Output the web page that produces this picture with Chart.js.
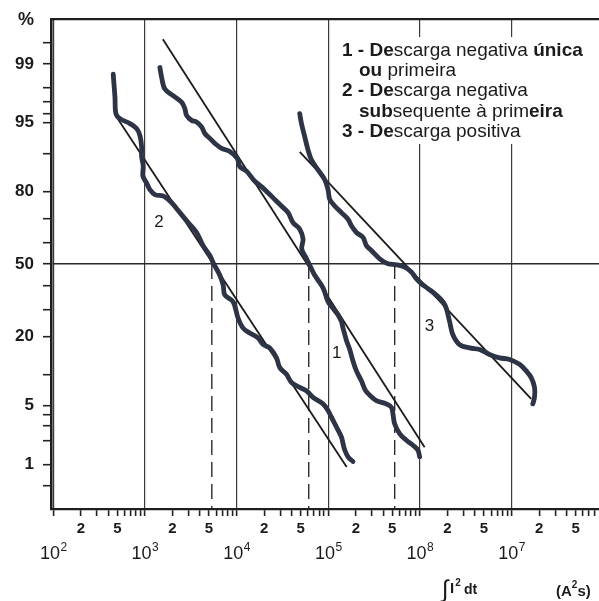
<!DOCTYPE html>
<html>
<head>
<meta charset="utf-8">
<script src="https://cdn.jsdelivr.net/npm/chart.js@4.4.1/dist/chart.umd.min.js"></script>
<style>
  html, body { margin: 0; padding: 0; background: #fff; }
  #c { display: block; }
</style>
</head>
<body>
<canvas id="c" width="599" height="601"></canvas>
<script>
// Cumulative probability (%) of the specific energy ∫i²dt (A²s), log-normal paper.

// 1 - Descarga negativa única ou primeira
const curve1X = [1457, 1521, 1652, 2034, 2512, 2729, 2848, 3228, 3660, 4150, 4508, 5110, 5794, 6855, 8445,
  10140, 10850, 12840, 15810, 18840, 23040, 26120, 30900, 36480, 41300, 48920, 53160, 51400, 56830, 62880,
  71290, 87800, 99500, 112800, 127900, 139300, 144900, 151400, 159100, 171400, 186200, 203000, 230100,
  256200, 295800, 335400, 430500, 488700, 508200, 530300, 601200, 711200, 839500, 952800, 993300];
const curve1Pct = [98.88, 98.50, 97.90, 97.48, 97.01, 96.45, 95.80, 95.25, 95.07, 94.45, 93.54, 92.79, 91.96, 91.07, 90.44,
  89.06, 87.16, 85.99, 83.20, 81.51, 79.04, 77.37, 75.01, 72.50, 68.54, 65.76, 61.45, 56.98, 53.21, 49.40,
  44.83, 39.13, 33.11, 30.36, 27.76, 25.24, 22.85, 20.72, 18.49, 16.14, 13.01, 10.73, 8.75,
  7.06, 6.18, 5.64, 5.22, 4.82, 4.10, 3.19, 2.45, 2.04, 1.77, 1.53, 1.26];

// 2 - Descarga negativa subsequente à primeira
const curve2X = [451, 471, 483, 534, 686, 812, 882, 920, 920, 958, 951, 1043, 1134, 1285, 1583, 1795, 2034,
  2407, 2965, 3660, 4320, 5110, 5650, 6570, 7140, 7450, 9170, 10400, 11790, 13950, 17180, 19480, 23040,
  27260, 29610, 35040, 39720, 48920, 57870, 68240, 87700, 99500, 108400, 122900, 139300, 144900, 151400,
  164400, 186200];
const curve2Pct = [98.63, 97.40, 95.97, 95.45, 94.87, 94.23, 93.24, 91.43, 89.49, 87.25, 84.68, 82.70, 80.66, 79.04, 78.52, 77.37, 75.58,
  72.50, 68.54, 64.35, 58.51, 53.98, 50.00, 44.83, 40.32, 35.94, 33.11, 26.47, 22.85, 21.16, 19.52, 17.51, 16.50,
  13.81, 11.45, 10.04, 8.44, 7.59, 7.06, 6.08, 5.22, 4.45, 3.77, 2.92, 2.23, 1.86, 1.54,
  1.26, 1.09];

// 3 - Descarga positiva
const curve3X = [48900, 51050, 55460, 60260, 65610, 77450, 91620, 99500, 103900, 117800, 139300, 164400,
  179100, 203000, 239600, 261000, 295800, 364400, 448700, 554000, 682300, 807200, 914100, 1036000,
  1225000, 1511000, 1782000, 1941000, 2109000, 2291000, 2710000, 3483000, 4477000, 5754000, 7396000,
  9506000, 12220000, 14450000, 16390000, 17810000, 17810000, 17060000];
const curve3Pct = [95.97, 94.87, 93.04, 90.74, 88.69, 86.33, 83.65, 80.66, 77.37, 75.01, 72.50, 69.88,
  67.18, 64.35, 62.18, 58.51, 56.25, 52.43, 50.14, 49.68, 48.62, 46.34, 43.29, 41.05,
  38.82, 35.94, 33.11, 30.36, 25.24, 20.61, 17.51, 16.50, 16.06, 14.70, 13.81,
  13.41, 12.22, 10.73, 9.37, 7.59, 6.08, 5.22];

// fitted log-normal lines (end points) and medians
const fit1X = [1570, 1127000];   const fit1Pct = [99.55, 1.67];
const fit2X = [471, 159000];     const fit2Pct = [95.9, 0.92];
const fit3X = [48900, 16390000]; const fit3Pct = [90.4, 5.86];
const medianX = [5370, 61300, 531000];

// axis ticks
const yTickPct = [99.5, 99, 98, 97, 96, 95, 90, 80, 70, 60, 50, 40, 30, 20, 10, 5, 4, 3, 2, 1, 0.5];
const yLabelPct = [99, 95, 80, 50, 20, 5, 1];
const decadeValues = [1e2, 1e3, 1e4, 1e5, 1e6, 1e7];
const decadeExp = ['2', '3', '4', '5', '8', '7'];
const minorMantissa = [2, 3, 4, 5, 6, 7, 8, 9];
const labelledMantissa = [2, 5];

const FONT = "'Liberation Sans', Arial, Helvetica, sans-serif";
const INK = '#1b1b1b';
const CURVE = '#2d3446';

// inverse of the standard normal CDF (Acklam), percent in -> z out
function probit(pct) {
  const p = pct / 100;
  const a = [-3.969683028665376e+01, 2.209460984245205e+02, -2.759285104469687e+02, 1.383577518672690e+02, -3.066479806614716e+01, 2.506628277459239e+00];
  const b = [-5.447609879822406e+01, 1.615858368580409e+02, -1.556989798598866e+02, 6.680131188771972e+01, -1.328068155288572e+01];
  const c = [-7.784894002430293e-03, -3.223964580411365e-01, -2.400758277161838e+00, -2.549732539343734e+00, 4.374664141464968e+00, 2.938163982698783e+00];
  const d = [7.784695709041462e-03, 3.224671290700398e-01, 2.445134137142996e+00, 3.754408661907416e+00];
  const pl = 0.02425, ph = 1 - pl;
  let q, r;
  if (p < pl) {
    q = Math.sqrt(-2 * Math.log(p));
    return (((((c[0]*q+c[1])*q+c[2])*q+c[3])*q+c[4])*q+c[5]) / ((((d[0]*q+d[1])*q+d[2])*q+d[3])*q+1);
  }
  if (p <= ph) {
    q = p - 0.5; r = q * q;
    return (((((a[0]*r+a[1])*r+a[2])*r+a[3])*r+a[4])*r+a[5])*q / (((((b[0]*r+b[1])*r+b[2])*r+b[3])*r+b[4])*r+1);
  }
  q = Math.sqrt(-2 * Math.log(1 - p));
  return -(((((c[0]*q+c[1])*q+c[2])*q+c[3])*q+c[4])*q+c[5]) / ((((d[0]*q+d[1])*q+d[2])*q+d[3])*q+1);
}

const toPoints = (xs, ps) => xs.map((x, i) => ({ x, y: probit(ps[i]) }));

// x tick values: every integer multiple inside each decade
const xTickValues = [];
decadeValues.forEach(dv => {
  xTickValues.push(dv);
  minorMantissa.forEach(m => { if (dv * m <= 8.5e7) xTickValues.push(dv * m); });
});
const mantissaOf = v => Math.round(v / Math.pow(10, Math.floor(Math.log10(v) + 1e-9)));

const Z_LIM = 2.845;

const curveStyle = { borderColor: CURVE, borderWidth: 4.8, tension: 0.35, pointRadius: 0,
  borderCapStyle: 'round', borderJoinStyle: 'round', fill: false };
const fitStyle = { borderColor: INK, borderWidth: 1.8, tension: 0, pointRadius: 0, fill: false };
const dashStyle = { borderColor: '#2a2a2a', borderWidth: 1.4, borderDash: [15, 7], pointRadius: 0, fill: false };

const datasets = [
  { label: '1', data: toPoints(curve1X, curve1Pct), ...curveStyle },
  { label: '2', data: toPoints(curve2X, curve2Pct), ...curveStyle },
  { label: '3', data: toPoints(curve3X, curve3Pct), ...curveStyle },
  { label: 'fit 1', data: toPoints(fit1X, fit1Pct), ...fitStyle },
  { label: 'fit 2', data: toPoints(fit2X, fit2Pct), ...fitStyle },
  { label: 'fit 3', data: toPoints(fit3X, fit3Pct), ...fitStyle },
  ...medianX.map(m => ({ label: 'median', data: toPoints([m, m], [50, 0.1]), ...dashStyle }))
];

function drawSup(ctx, base, sup, xCenter, baseY, baseFont, supFont, supRise) {
  ctx.font = baseFont; const w1 = ctx.measureText(base).width;
  ctx.font = supFont; const w2 = ctx.measureText(sup).width;
  const x0 = xCenter - (w1 + w2) / 2;
  ctx.font = baseFont; ctx.fillText(base, x0, baseY);
  ctx.font = supFont; ctx.fillText(sup, x0 + w1 + 0.5, baseY - supRise);
}

const paperPlugin = {
  id: 'paper',
  beforeDatasetsDraw(chart) {
    const { ctx, chartArea: a } = chart;
    // white panel that carries the legend text
    ctx.save();
    ctx.fillStyle = '#fff';
    ctx.fillRect(336, 37, a.right - 336, 107);
    ctx.restore();
  },
  afterDraw(chart) {
    const { ctx, chartArea: a, scales: { x, y } } = chart;
    ctx.save();
    // top frame line
    ctx.strokeStyle = '#1e1e1e'; ctx.lineWidth = 2.2;
    ctx.beginPath(); ctx.moveTo(a.left, a.top); ctx.lineTo(a.right, a.top); ctx.stroke();

    ctx.fillStyle = INK;
    ctx.textBaseline = 'alphabetic';
    ctx.textAlign = 'left';

    // "%" over the probability axis
    ctx.font = `bold 18px ${FONT}`;
    ctx.textAlign = 'right';
    ctx.fillText('%', 34, 25);
    ctx.textAlign = 'left';

    // decade labels 10^n
    decadeValues.forEach((v, i) => {
      drawSup(ctx, '10', decadeExp[i], x.getPixelForValue(v), 559,
        `18px ${FONT}`, `12px ${FONT}`, 8);
    });

    // axis caption
    ctx.font = `24px ${FONT}`;
    ctx.fillText('∫', 442, 597);
    ctx.font = `bold 15px ${FONT}`;
    ctx.fillText('I', 450, 593);
    const w = ctx.measureText('I').width;
    ctx.font = `bold 10px ${FONT}`;
    ctx.fillText('2', 451 + w, 586);
    ctx.font = `bold 14px ${FONT}`;
    ctx.fillText('dt', 464, 594);

    ctx.font = `bold 15px ${FONT}`;
    let cx = 556;
    ctx.fillText('(A', cx, 596); cx += ctx.measureText('(A').width;
    ctx.font = `bold 10px ${FONT}`;
    ctx.fillText('2', cx, 588); cx += ctx.measureText('2').width;
    ctx.font = `bold 15px ${FONT}`;
    ctx.fillText('s)', cx, 596);

    // curve numbers
    ctx.font = `17px ${FONT}`;
    ctx.textAlign = 'center';
    ctx.textBaseline = 'middle';
    [['1', 124000, 15.05], ['2', 1420, 68.5], ['3', 1276000, 23.4]].forEach(([t, vx, vp]) => {
      ctx.fillText(t, x.getPixelForValue(vx), y.getPixelForValue(probit(vp)));
    });

    // legend
    ctx.textAlign = 'left';
    ctx.textBaseline = 'alphabetic';
    const lines = [
      { x: 342, segs: [['1 - ', true], ['De', true], ['scarga negativa ', false], ['única', true]] },
      { x: 359, segs: [['ou', true], [' primeira', false]] },
      { x: 342, segs: [['2 - ', true], ['De', true], ['scarga negativa', false]] },
      { x: 359, segs: [['sub', true], ['sequente à prim', false], ['eira', true]] },
      { x: 342, segs: [['3 - ', true], ['De', true], ['scarga positiva', false]] }
    ];
    lines.forEach((ln, i) => {
      let px = ln.x;
      const by = 55.5 + i * 20.4;
      ln.segs.forEach(([t, b]) => {
        ctx.font = `${b ? 'bold ' : ''}19px ${FONT}`;
        ctx.fillText(t, px, by);
        px += ctx.measureText(t).width;
      });
    });
    ctx.restore();
  }
};

Chart.defaults.font.family = FONT;

new Chart(document.getElementById('c'), {
  type: 'line',
  data: { datasets },
  plugins: [paperPlugin],
  options: {
    responsive: false,
    animation: false,
    devicePixelRatio: 1,
    layout: { padding: { top: 14, left: 0, right: 0, bottom: 0 } },
    plugins: { legend: { display: false }, tooltip: { enabled: false } },
    scales: {
      x: {
        type: 'logarithmic',
        min: 94.5,
        max: 9e7,
        afterBuildTicks: s => { s.ticks = xTickValues.map(v => ({ value: v })); },
        afterFit: s => { s.height = 92; },
        ticks: {
          autoSkip: false, maxRotation: 0, minRotation: 0, padding: 4, color: INK,
          font: { size: 15, weight: 'bold' },
          callback: (v, i) => {
            const m = mantissaOf(xTickValues[i]);
            return (m !== 1 && labelledMantissa.includes(m)) ? String(m) : '';
          }
        },
        grid: {
          color: c => (c.tick && mantissaOf(c.tick.value) === 1) ? '#3a3a3a' : 'rgba(0,0,0,0)',
          lineWidth: 1.2,
          tickColor: '#222',
          tickLength: 7,
          tickWidth: 1.6
        },
        border: { color: '#1e1e1e', width: 2.2 }
      },
      y: {
        type: 'linear',
        min: -Z_LIM,
        max: Z_LIM,
        afterBuildTicks: s => { s.ticks = yTickPct.map(p => ({ value: probit(p) })); },
        afterFit: s => { s.width = 51; },
        ticks: {
          autoSkip: false, padding: 9, color: INK,
          font: { size: 17, weight: 'bold' },
          callback: (v, i) => yLabelPct.includes(yTickPct[i]) ? String(yTickPct[i]) : ''
        },
        grid: {
          color: c => (c.tick && yTickPct[c.index] === 50) ? '#2a2a2a' : 'rgba(0,0,0,0)',
          lineWidth: 1.4,
          tickColor: '#222',
          tickLength: 8,
          tickWidth: 1.6
        },
        border: { color: '#1e1e1e', width: 2.6 }
      }
    }
  }
});
</script>
</body>
</html>
